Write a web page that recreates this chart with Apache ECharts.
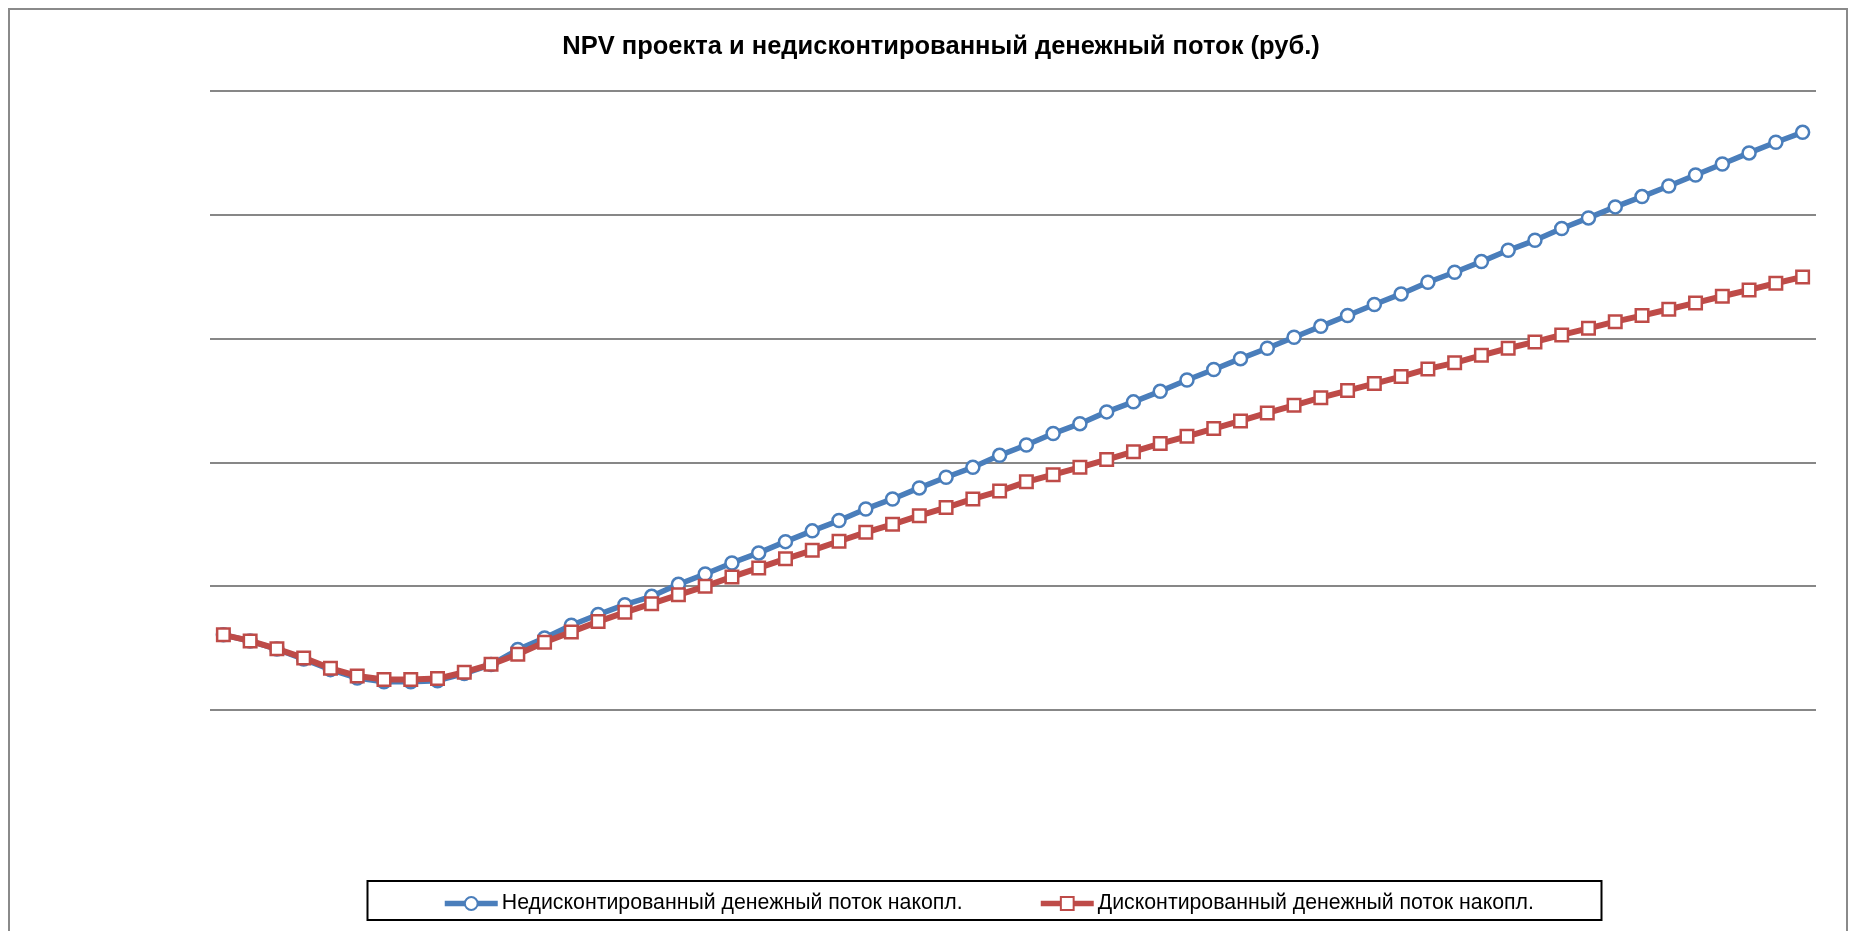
<!DOCTYPE html>
<html>
<head>
<meta charset="utf-8">
<script src="https://cdn.jsdelivr.net/npm/echarts@6/dist/echarts.min.js"></script>
<style>
html,body{margin:0;padding:0;background:#fff;}
#chart{width:1849px;height:931px;}
</style>
</head>
<body>
<div id="chart"></div>
<script>
// Period index (category axis, labels hidden in the reference)
const periods = [];
for (let i = 1; i <= 60; i++) periods.push(String(i));

const seriesNames = [
  'Недисконтированный денежный поток накопл.',
  'Дисконтированный денежный поток накопл.'
];

const undiscounted = [
  -3.93, -4.43, -5.08, -5.89, -6.74, -7.42, -7.71, -7.71, -7.63, -7.06,
  -6.33, -5.12, -4.18, -3.16, -2.29, -1.49, -0.82, 0.15, 0.99, 1.88,
  2.69, 3.60, 4.47, 5.30, 6.24, 7.05, 7.94, 8.80, 9.60, 10.57,
  11.41, 12.33, 13.13, 14.08, 14.89, 15.74, 16.66, 17.50, 18.38, 19.22,
  20.11, 20.99, 21.86, 22.75, 23.61, 24.55, 25.36, 26.22, 27.13, 27.94,
  28.89, 29.75, 30.64, 31.47, 32.33, 33.22, 34.11, 35.00, 35.86, 36.66
];

const discounted = [
  -3.93, -4.42, -5.06, -5.79, -6.63, -7.25, -7.54, -7.54, -7.46, -6.95,
  -6.31, -5.50, -4.53, -3.69, -2.86, -2.11, -1.41, -0.70, -0.01, 0.75,
  1.48, 2.21, 2.90, 3.63, 4.35, 5.00, 5.70, 6.35, 7.05, 7.68,
  8.43, 9.01, 9.60, 10.23, 10.87, 11.52, 12.11, 12.73, 13.35, 14.00,
  14.61, 15.23, 15.80, 16.37, 16.93, 17.55, 18.04, 18.65, 19.22, 19.73,
  20.30, 20.83, 21.37, 21.86, 22.37, 22.88, 23.42, 23.93, 24.47, 24.98
];

const titleText = 'NPV проекта и недисконтированный денежный поток (руб.)';

const FONT = '"Liberation Sans", Arial, sans-serif';
const BLUE = '#4A7EBB';
const RED = '#BE4B48';

const chart = echarts.init(document.getElementById('chart'), null, {renderer: 'canvas'});

function legendFor(i, left, color) {
  return {
    data: [seriesNames[i]],
    left: left, top: 893,
    itemWidth: 53, itemHeight: 16, itemGap: 4,
    padding: 0,
    lineStyle: {width: 5.5, color: color},
    textStyle: {fontFamily: FONT, fontSize: 21.3, color: '#000', padding: [0, 0, 0, -1]}
  };
}

chart.setOption({
  backgroundColor: '#ffffff',
  animation: false,
  title: {
    text: titleText,
    left: 936,
    textAlign: 'center',
    top: 29,
    textStyle: {fontFamily: FONT, fontSize: 25.5, fontWeight: 'bold', color: '#000'}
  },
  legend: [legendFor(0, 442, BLUE), legendFor(1, 1038, RED)],
  grid: {left: 210, right: 33, top: 91, bottom: 221, containLabel: false},
  xAxis: {
    type: 'category',
    data: periods,
    boundaryGap: true,
    axisLine: {show: false},
    axisTick: {show: false},
    axisLabel: {show: false},
    splitLine: {show: false}
  },
  yAxis: {
    type: 'value',
    min: -10, max: 40, interval: 10,
    axisLine: {show: false},
    axisTick: {show: false},
    axisLabel: {show: false},
    splitLine: {show: true, lineStyle: {color: '#878787', width: 2}}
  },
  graphic: [
    {
      type: 'rect',
      shape: {x: 9, y: 9, width: 1838, height: 1000},
      style: {fill: null, stroke: '#8a8a8a', lineWidth: 2},
      silent: true, z: -1
    },
    {
      type: 'rect',
      shape: {x: 367.5, y: 881, width: 1234, height: 39},
      style: {fill: null, stroke: '#000', lineWidth: 2},
      silent: true
    }
  ],
  series: [
    {
      name: seriesNames[0],
      type: 'line',
      data: undiscounted,
      symbol: 'circle',
      symbolSize: 13,
      showAllSymbol: true,
      lineStyle: {color: BLUE, width: 5.5},
      itemStyle: {color: '#ffffff', borderColor: BLUE, borderWidth: 2.5},
      z: 2
    },
    {
      name: seriesNames[1],
      type: 'line',
      data: discounted,
      symbol: 'rect',
      symbolSize: 12.5,
      showAllSymbol: true,
      lineStyle: {color: RED, width: 6},
      itemStyle: {color: '#ffffff', borderColor: RED, borderWidth: 2.5},
      z: 3
    }
  ]
});
</script>
</body>
</html>
